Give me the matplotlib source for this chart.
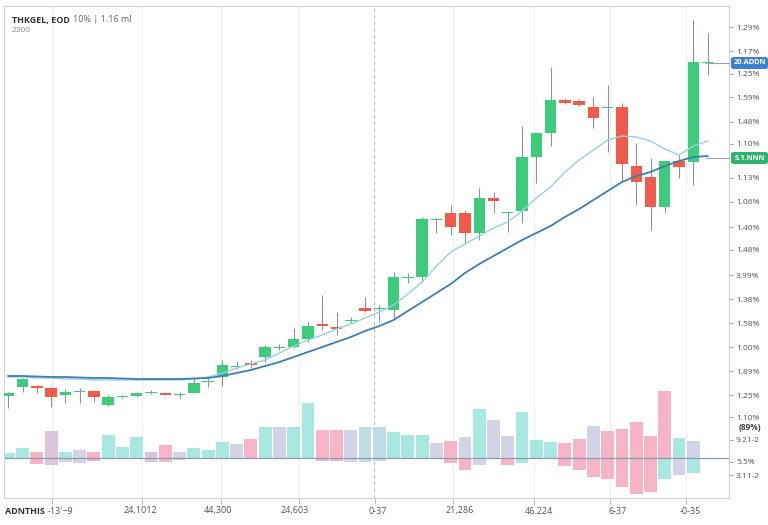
import matplotlib
matplotlib.use("Agg")
import matplotlib.pyplot as plt
from matplotlib.patches import Rectangle, FancyBboxPatch
from matplotlib.transforms import blended_transform_factory

plt.rcParams['font.family'] = ['Open Sans', 'DejaVu Sans']

# ---------------- data ----------------
c_open  = [129, 138, 139, 137, 130, 133, 134, 120, 128, 129, 132, 132, 130, 132, 143, 148, 158, 162, 168, 177,
           178, 186, 201, 198, 204, 217, 216, 215, 247, 248, 305, 312, 312, 292, 327, 312, 314, 368, 392, 425,
           424, 418, 417, 418, 359, 348, 318, 364, 363, 462]
c_high  = [133, 147, 140, 138, 136, 137, 135, 130, 130, 133, 135, 133, 133, 147, 148, 165, 164, 165, 180, 181,
           197, 203, 230, 213, 208, 228, 220, 253, 252, 308, 307, 320, 315, 337, 333, 313, 399, 392, 458, 427,
           426, 428, 440, 422, 382, 367, 364, 370, 505, 492]
c_low   = [117, 133, 132, 118, 122, 122, 123, 119, 127, 128, 131, 130, 127, 132, 138, 139, 156, 157, 163, 175,
           177, 183, 195, 190, 202, 213, 203, 207, 242, 243, 292, 290, 282, 285, 312, 293, 302, 342, 379, 421,
           419, 397, 373, 343, 320, 295, 312, 347, 340, 450]
c_close = [132, 146, 137, 128, 133, 134, 128, 128, 129, 132, 133, 130, 131, 142, 144, 160, 159, 160, 178, 178,
           186, 199, 199, 196, 205, 214, 217, 248, 248, 306, 306, 298, 292, 327, 324, 313, 368, 392, 425, 422,
           420, 407, 418, 361, 343, 318, 364, 358, 463, 463]

ma_fast = [148, 148, 147, 147, 146, 146, 145, 145, 145, 145, 145, 145, 145, 146, 148, 152, 157, 161, 165, 172,
           179, 185, 190, 196, 201, 207, 213, 220, 231, 243, 259, 273, 281, 289, 297, 303, 314, 327, 338, 353,
           365, 375, 385, 389, 388, 384, 376, 370, 379, 384]
ma_slow = [149, 149, 148.5, 148, 148, 147.5, 147, 147, 146.5, 146, 146, 146, 146, 146.5, 147, 149, 152, 155, 159, 163,
           168, 173, 178, 183, 188, 194, 199, 205, 214, 223, 232, 241, 252, 261, 269, 277, 285, 292, 299, 308,
           316, 325, 334, 343, 349, 353, 359, 364, 368, 369]

vol_base = 67.5
vol_up   = [5, 10, 6, 27, 6, 8, 6, 23, 11, 21, 6, 13, 6, 10, 8, 16, 14, 19, 31, 31,
            31, 55, 28, 28, 28, 31, 31, 26, 23, 23, 15, 17, 21, 49, 38, 22, 46, 18, 16, 15,
            19, 32, 27, 29, 36, 22, 67, 20, 17]
vol_down = [0, 0, 6, 7, 4, 5, 3, 0, 0, 0, 4, 4, 2, 0, 0, 0, 0, 0, 0, 0,
            0, 0, 3, 3, 4, 4, 3, 0, 0, 0, 0, 5, 12, 7, 0, 7, 5, 0, 0, 8,
            12, 19, 21, 29, 36, 34, 21, 17, 15]
vol_up_kind   = list("ttpmtlptttmpltttlptlttpplbbtttlpltlltttpplppppptlt")
vol_down_kind = list("ttpmllptttmpltttlptlttpplbbtttlppltptttppppppptlt")

y_tick_vals   = [498, 474, 451, 428, 403, 381, 347, 323, 298, 275, 250, 226, 202, 178, 154, 130, 108, 85, 63, 50]
y_tick_labels = ["1.29%", "1.17%", "1.25%", "1.59%", "1.48%", "1.10%", "1.13%", "1.06%", "1.40%", "1.48%",
                 "3.99%", "1.38%", "1.58%", "1.00%", "1.89%", "1.25%", "1.10%", "9.21-2", "5.5%", "3.11-2"]
x_labels = ["24,1012", "44,300", "24,603", "0-37", "21,286", "46.224", "6-37", "-0-35"]
box_labels = ["20.ADDN", "5.1.NNN"]
box_levels = [462, 367]

# ---------------- figure ----------------
W, H = 768, 525
fig = plt.figure(figsize=(W / 100, H / 100), dpi=100)
fig.patch.set_facecolor("white")
ax = fig.add_axes([4 / W, 27 / H, 725 / W, 492 / H])
ax.set_xlim(-0.3, 50.5)
ax.set_ylim(27, 519)

# grid / crosshair
grid_x = [3.06, 9.37, 14.91, 20.37, 31.16, 36.84, 42.17, 47.49]
for gx in grid_x:
    ax.axvline(gx, color="#efefef", lw=0.8, zorder=0)
ax.axvline(25.6, color="#b8b8b8", lw=0.8, ls=(0, (3, 3)), zorder=0.5)

# volume
palette = {"t": "#a9e8e1", "l": "#d4d4e7", "p": "#f6b5c7", "b": "#c0dde7", "m": "#dcc5d8"}
idx_v = list(range(len(vol_up)))
ax.bar(idx_v, vol_up, bottom=vol_base, width=0.9,
       color=[palette[k] for k in vol_up_kind], zorder=1, linewidth=0)
ax.bar(idx_v, [-d for d in vol_down], bottom=vol_base, width=0.9,
       color=[palette[k] for k in vol_down_kind], zorder=1, linewidth=0)
ax.axhline(vol_base, color="#8b9cac", lw=0.9, zorder=2)

# candles
green, red = "#3dcb7c", "#f25a4c"
for i, (o, h, l, c) in enumerate(zip(c_open, c_high, c_low, c_close)):
    col = green if c >= o else red
    ax.vlines(i, l, h, color="#8c9398", lw=0.8, zorder=3)
    bot = min(o, c)
    hgt = max(abs(c - o), 1.3)
    ax.add_patch(Rectangle((i - 0.4, bot), 0.8, hgt, facecolor=col, edgecolor="none", zorder=4))

# moving averages
idx = list(range(len(ma_fast)))
ax.plot(idx, ma_fast, color="#98cfe5", lw=1.0, zorder=5)
ax.plot(idx, ma_slow, color="#3e7fb3", lw=1.3, zorder=5)

# price lines to labels
for lv in box_levels:
    ax.plot([48.9, 50.5], [lv, lv], color="#9aa4aa", lw=0.8, zorder=5, clip_on=False)

# axes styling
for s in ax.spines.values():
    s.set_color("#d3d3d3")
    s.set_linewidth(0.8)
ax.yaxis.tick_right()
ax.set_yticks(y_tick_vals)
ax.set_yticklabels(y_tick_labels)
ax.tick_params(axis="y", length=3, color="#a8a8a8", labelsize=6, labelcolor="#555555", pad=2)
ax.set_xticks(grid_x[:4] + [25.7] + grid_x[4:])
ax.set_xticklabels([])
ax.tick_params(axis="x", length=4, color="#bdbdbd")

# extra right label
ax.text(1.013, 97, "(89%)", transform=blended_transform_factory(ax.transAxes, ax.transData),
        fontsize=6, fontweight="bold", color="#444444", va="center", ha="left")

# x labels
tr = blended_transform_factory(ax.transData, fig.transFigure)
x_label_pos = [9.23, 14.70, 20.09, 25.91, 31.65, 37.19, 42.73, 47.77]
for xp, lab in zip(x_label_pos, x_labels):
    ax.text(xp, 1 - 511 / H, lab, transform=tr, fontsize=6.5, color="#555555", ha="center", va="center")
fig.text(5 / W, 1 - 511 / H, "ADNTHIS", fontsize=6.5, fontweight="bold", color="#333333", va="center")
fig.text(47.5 / W, 1 - 511 / H, "-13'\u22129", fontsize=6.5, color="#555555", va="center")

# title
fig.text(12 / W, 1 - 20 / H, "THKGEL, EOD", fontsize=6.5, fontweight="bold", color="#333333", va="center")
fig.text(73 / W, 1 - 20 / H, "10% | 1.16 ml", fontsize=6.5, color="#666666", va="center")
fig.text(12 / W, 1 - 31 / H, "2300", fontsize=6, color="#888888", va="center")

# value boxes on the right
disp_to_fig = fig.transFigure.inverted()
for lv, txt, col in zip(box_levels, box_labels, ["#3d7fd1", "#2db46a"]):
    yc_fig = disp_to_fig.transform(ax.transData.transform((0, lv)))[1]
    fig.add_artist(FancyBboxPatch((731 / W, yc_fig - 6 / H), 37 / W, 12 / H,
                                  boxstyle="round,pad=0,rounding_size=0.004",
                                  transform=fig.transFigure, fc=col, ec="none", zorder=10))
    fig.text(749.5 / W, yc_fig, txt, fontsize=5.3, fontweight="bold", color="white",
             ha="center", va="center", zorder=11)

fig.savefig("out.png", dpi=100, facecolor="white")
